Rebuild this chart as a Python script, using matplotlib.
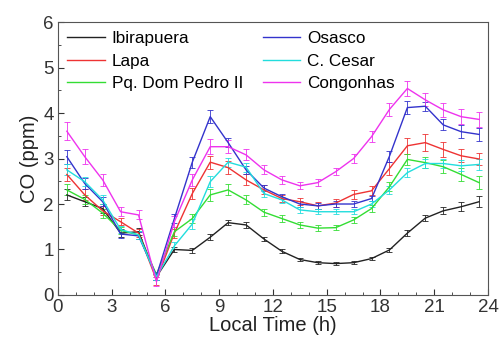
import matplotlib
matplotlib.use("Agg")
import matplotlib.pyplot as plt
from matplotlib.ticker import MultipleLocator
from matplotlib.lines import Line2D

plt.rcParams['font.family'] = ['Liberation Sans', 'DejaVu Sans']

hours = [0.5, 1.5, 2.5, 3.5, 4.5, 5.5, 6.5, 7.5, 8.5, 9.5, 10.5, 11.5,
         12.5, 13.5, 14.5, 15.5, 16.5, 17.5, 18.5, 19.5, 20.5, 21.5, 22.5, 23.5]

ibirapuera = [2.2, 2.05, 1.9, 1.36, 1.39, 0.4, 1.0, 0.98, 1.27, 1.59, 1.54, 1.23,
              0.96, 0.78, 0.71, 0.69, 0.71, 0.8, 0.99, 1.36, 1.69, 1.85, 1.94, 2.05]
osasco = [3.04, 2.45, 2.05, 1.34, 1.3, 0.42, 1.68, 2.92, 3.92, 3.35, 2.75, 2.35,
          2.16, 2.0, 1.96, 2.0, 2.0, 2.12, 3.05, 4.12, 4.15, 3.74, 3.59, 3.53]
lapa = [2.65, 2.2, 1.85, 1.61, 1.36, 0.33, 1.36, 2.23, 2.92, 2.8, 2.53, 2.31,
        2.12, 2.05, 1.96, 2.02, 2.21, 2.29, 2.78, 3.28, 3.35, 3.2, 3.06, 2.99]
c_cesar = [2.75, 2.49, 2.09, 1.44, 1.32, 0.4, 1.08, 1.56, 2.49, 2.92, 2.81, 2.23,
           2.09, 1.87, 1.83, 1.83, 1.83, 2.0, 2.31, 2.69, 2.89, 2.89, 2.84, 2.87]
dom_pedro = [2.31, 2.1, 1.8, 1.42, 1.32, 0.45, 1.39, 1.68, 2.2, 2.31, 2.09, 1.82,
             1.68, 1.54, 1.47, 1.48, 1.65, 1.9, 2.38, 2.98, 2.91, 2.82, 2.65, 2.47]
congonhas = [3.6, 3.04, 2.53, 1.83, 1.76, 0.29, 1.61, 2.53, 3.26, 3.26, 3.08, 2.75,
             2.53, 2.4, 2.47, 2.71, 3.0, 3.48, 4.08, 4.54, 4.29, 4.07, 3.92, 3.86]

err_ibirapuera = [0.12, 0.1, 0.1, 0.08, 0.08, 0.06, 0.06, 0.06, 0.06, 0.06, 0.06, 0.05,
                  0.04, 0.03, 0.03, 0.03, 0.03, 0.03, 0.04, 0.06, 0.07, 0.08, 0.1, 0.12]
err_osasco = [0.15, 0.12, 0.1, 0.08, 0.08, 0.08, 0.1, 0.12, 0.14, 0.1, 0.08, 0.07,
              0.06, 0.06, 0.06, 0.06, 0.06, 0.06, 0.12, 0.14, 0.1, 0.12, 0.14, 0.14]
err_lapa = [0.15, 0.12, 0.1, 0.08, 0.08, 0.1, 0.1, 0.12, 0.14, 0.14, 0.12, 0.1,
            0.08, 0.08, 0.08, 0.08, 0.1, 0.1, 0.14, 0.18, 0.18, 0.16, 0.14, 0.14]
err_c_cesar = [0.12, 0.1, 0.1, 0.08, 0.08, 0.06, 0.08, 0.1, 0.12, 0.1, 0.1, 0.08,
               0.07, 0.06, 0.06, 0.06, 0.06, 0.06, 0.08, 0.1, 0.1, 0.1, 0.12, 0.12]
err_dom_pedro = [0.12, 0.1, 0.1, 0.08, 0.08, 0.06, 0.1, 0.1, 0.14, 0.12, 0.1, 0.08,
                 0.07, 0.06, 0.06, 0.06, 0.06, 0.07, 0.1, 0.12, 0.12, 0.14, 0.14, 0.14]
err_congonhas = [0.2, 0.16, 0.14, 0.1, 0.1, 0.1, 0.12, 0.14, 0.16, 0.14, 0.12, 0.1,
                 0.08, 0.08, 0.08, 0.08, 0.1, 0.12, 0.14, 0.16, 0.14, 0.16, 0.16, 0.16]

series = [
    ("Ibirapuera", ibirapuera, err_ibirapuera, "#222222"),
    ("Lapa", lapa, err_lapa, "#ee3333"),
    ("Pq. Dom Pedro II", dom_pedro, err_dom_pedro, "#33dd33"),
    ("Osasco", osasco, err_osasco, "#3333cc"),
    ("C. Cesar", c_cesar, err_c_cesar, "#22dddd"),
    ("Congonhas", congonhas, err_congonhas, "#ee33ee"),
]

fig = plt.figure(figsize=(4.99, 3.45), dpi=100)
ax = fig.add_axes([0.116, 0.145, 0.862, 0.791])

handles = []
labels = []
for name, vals, errs, col in series:
    ax.errorbar(hours, vals, yerr=errs, color=col, lw=1.0, elinewidth=0.6,
                capsize=2, capthick=0.6)
    handles.append(Line2D([], [], color=col, lw=1.0))
    labels.append(name)

ax.set_xlim(0, 24)
ax.set_ylim(0, 6)
ax.xaxis.set_major_locator(MultipleLocator(3))
ax.xaxis.set_minor_locator(MultipleLocator(1))
ax.yaxis.set_major_locator(MultipleLocator(1))
ax.yaxis.set_minor_locator(MultipleLocator(0.5))
ax.tick_params(which='both', direction='in', labelsize=13.5, colors='#333333', pad=3)
ax.tick_params(which='major', length=4)
ax.tick_params(which='minor', length=2.5)
for sp in ax.spines.values():
    sp.set_color('#555555')
    sp.set_linewidth(0.8)

ax.set_xlabel("Local Time (h)", fontsize=14.5, labelpad=0, color='#222222')
ax.set_ylabel("CO (ppm)", fontsize=14.5, labelpad=3, color='#222222')

ax.legend(handles, labels, ncol=2, loc='upper left', frameon=False, fontsize=12.3,
          handlelength=2.2, handletextpad=0.4, columnspacing=1.15,
          labelspacing=0.42, borderaxespad=0.15)

fig.savefig("out.png", dpi=100)
